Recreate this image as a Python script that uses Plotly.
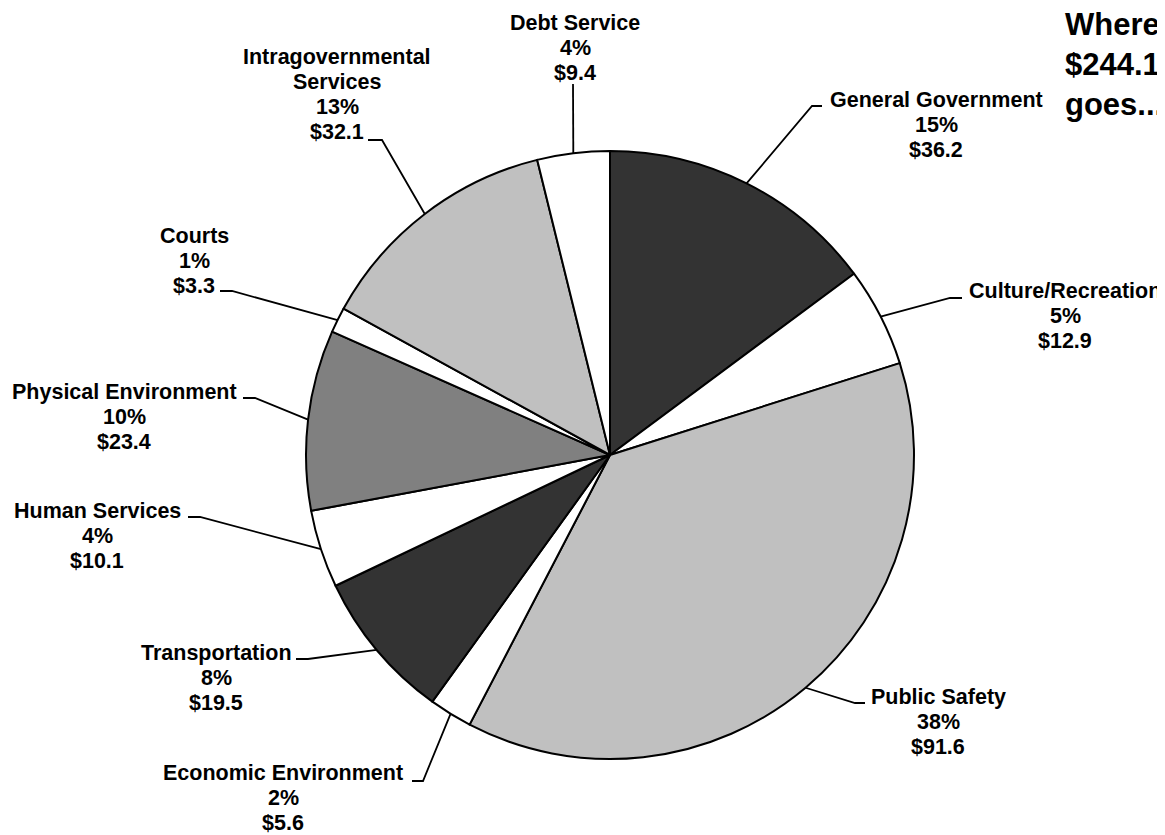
import math
import plotly.graph_objects as go

# spending by function, $ millions, clockwise from 12 o'clock
categories = ["General Government", "Culture/Recreation", "Public Safety",
              "Economic Environment", "Transportation", "Human Services",
              "Physical Environment", "Courts", "Intragovernmental<br>Services",
              "Debt Service"]
amounts = [36.2, 12.9, 91.6, 5.6, 19.5, 10.1, 23.4, 3.3, 32.1, 9.4]
slice_colors = ["#333333", "#ffffff", "#c0c0c0", "#ffffff", "#333333",
                "#ffffff", "#808080", "#ffffff", "#c0c0c0", "#ffffff"]
title_lines = ["Where the", "$244.1 Million", "goes..."]

W, H = 1165, 835
OFF = 8  # page body margin
cx, cy, R = 610, 455, 304

# label layout in screen pixels: text centre x, first baseline y, elbow point, end of leader
label_layout = [
    (936, 106, (812, 106), (822, 106)),
    (1065, 297, (950, 298), (962, 298)),
    (938, 703, (855, 703), (865, 703)),
    (283, 779, (423, 781), (412, 781)),
    (216, 659, (308, 659), (296, 659)),
    (97, 517, (200, 517), (188, 517)),
    (124, 398, (255, 398), (243, 398)),
    (194, 242, (232, 291), (220, 291)),
    (337, 63, (382, 140), (368, 140)),
    (575, 29, (573, 84), (573, 84)),
]

FONT = "Liberation Sans, Arial, sans-serif"
LABEL_SIZE = 21.5
LINE_GAP = 25


def px(x):
    return (x - OFF) / W


def py(y):
    return 1 - (y - OFF) / H


fig = go.Figure(go.Pie(
    labels=[c.replace("<br>", " ") for c in categories],
    values=amounts,
    sort=False,
    direction="clockwise",
    rotation=0,
    marker=dict(colors=slice_colors, line=dict(color="black", width=2)),
    textinfo="none",
    hoverinfo="skip",
    showlegend=False,
    domain=dict(x=[px(cx - R), px(cx + R)], y=[py(cy + R), py(cy - R)]),
))

total = sum(amounts)
annotations = []
shapes = []


def add_text(text, x, baseline, size, anchor="center"):
    annotations.append(dict(
        text="<b>" + text + "</b>", x=px(x), y=py(baseline - 0.28 * size),
        xref="paper", yref="paper", xanchor=anchor, yanchor="middle",
        showarrow=False, font=dict(family=FONT, size=size, color="black"),
    ))


cum = 0
for cat, val, (tx, ty, elbow, end) in zip(categories, amounts, label_layout):
    mid = (cum + val / 2) / total * 2 * math.pi
    cum += val
    ex = cx + R * math.sin(mid)
    ey = cy - R * math.cos(mid)
    path = f"M {px(ex)},{py(ey)} L {px(elbow[0])},{py(elbow[1])} L {px(end[0])},{py(end[1])}"
    shapes.append(dict(type="path", path=path, xref="paper", yref="paper",
                       line=dict(color="black", width=1.8)))
    lines = cat.split("<br>") + [f"{val / total * 100:.0f}%", f"${val:.1f}"]
    for i, ln in enumerate(lines):
        add_text(ln, tx, ty + i * LINE_GAP, LABEL_SIZE)

for i, ln in enumerate(title_lines):
    add_text(ln, 1063, 33 + i * 40, 31, anchor="left")

fig.update_layout(
    width=W, height=H,
    margin=dict(l=0, r=0, t=0, b=0),
    paper_bgcolor="white",
    plot_bgcolor="white",
    annotations=annotations,
    shapes=shapes,
)

fig.write_html("out.html")
